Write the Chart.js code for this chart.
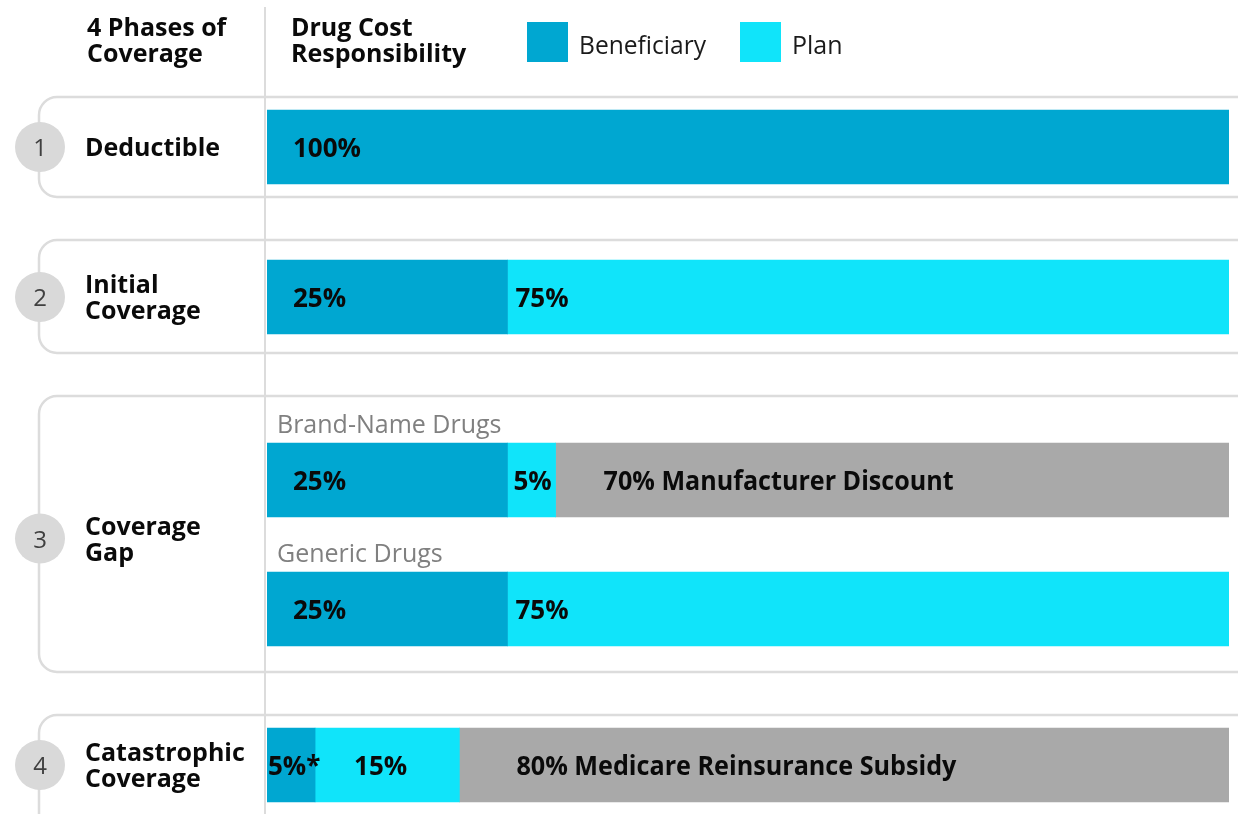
<!DOCTYPE html>
<html>
<head>
<meta charset="utf-8">
<script src="https://cdn.jsdelivr.net/npm/chart.js@4/dist/chart.umd.min.js"></script>
<style>
html,body{margin:0;padding:0;background:#ffffff;}
canvas{display:block;}
</style>
</head>
<body>
<canvas id="c" width="1238" height="814"></canvas>
<script>
// ---------- data ----------
const phaseNames = ['Deductible', 'Initial Coverage', 'Coverage Gap', 'Catastrophic Coverage'];
const phaseLines = [['Deductible'], ['Initial', 'Coverage'], ['Coverage', 'Gap'], ['Catastrophic', 'Coverage']];
const rowNames = ['Deductible', 'Initial Coverage', 'Brand-Name Drugs', 'Generic Drugs', 'Catastrophic Coverage'];
const rowSubtitles = ['', '', 'Brand-Name Drugs', 'Generic Drugs', ''];
const beneficiary = [100, 25, 25, 25, 5];
const plan = [null, 75, 5, 75, 15];
const otherShare = [null, null, 70, null, 80];
const otherNames = ['', '', 'Manufacturer Discount', '', 'Medicare Reinsurance Subsidy'];
const beneficiaryNotes = ['', '', '', '', '*'];
const seriesNames = ['Beneficiary', 'Plan', 'Other'];
const headerLeft = ['4 Phases of', 'Coverage'];
const headerRight = ['Drug Cost', 'Responsibility'];

// ---------- layout (not data) ----------
const PX_PER_SLOT = 150;
const rowSlots = [0.98, 1.98, 3.2, 4.06, 5.1];
const phaseSlots = [0.98, 1.98, 3.59, 5.1];
const phaseBoxes = [[0.6467, 1.3133], [1.6, 2.3533], [2.64, 4.48], [4.7667, 5.8]];
const labelInsets = [[26, 26, 26, 26, 1], [0, 8, 6, 8, 39], [0, 0, 48, 0, 57]];
const labelMaxWidths = [[], [], [0, 0, 350, 0, 440]];
const colors = ['#00A7D1', '#10E4FA', '#A9A9A9'];

const FONT = '"Open Sans", "Noto Sans", sans-serif';
Chart.defaults.font.family = FONT;

function series(values) {
  const out = [];
  values.forEach((v, i) => { if (v !== null) out.push({ x: v, y: rowSlots[i], row: i }); });
  return out;
}

const decoPlugin = {
  id: 'deco',
  beforeDatasetsDraw(chart) {
    const ctx = chart.ctx, ys = chart.scales.y, W = chart.width, H = chart.height;
    ctx.save();
    ctx.strokeStyle = '#dcdcdc';
    // vertical divider
    ctx.lineWidth = 2;
    ctx.beginPath(); ctx.moveTo(265, 7); ctx.lineTo(265, H); ctx.stroke();
    // phase boxes
    const bx = 39, r = 18;
    ctx.lineWidth = 2.5;
    phaseBoxes.forEach(([t, b]) => {
      const top = ys.getPixelForValue(t), bot = ys.getPixelForValue(b);
      ctx.beginPath();
      ctx.moveTo(W + 5, top);
      ctx.lineTo(bx + r, top);
      ctx.arcTo(bx, top, bx, top + r, r);
      ctx.lineTo(bx, bot - r);
      ctx.arcTo(bx, bot, bx + r, bot, r);
      ctx.lineTo(W + 5, bot);
      ctx.stroke();
    });
    // circles + numbers + phase labels
    phaseSlots.forEach((s, i) => {
      const cy = ys.getPixelForValue(s);
      ctx.fillStyle = '#d9d9d9';
      ctx.beginPath(); ctx.arc(40, cy, 25, 0, Math.PI * 2); ctx.fill();
      ctx.fillStyle = '#404040';
      ctx.font = '400 24px ' + FONT;
      ctx.textAlign = 'center'; ctx.textBaseline = 'alphabetic';
      ctx.fillText(String(i + 1), 40, cy + 9);
      ctx.fillStyle = '#0a0a0a';
      ctx.font = '700 25px ' + FONT;
      ctx.textAlign = 'left';
      const lines = phaseLines[i];
      const first = cy - (lines.length - 1) * 13 + 9;
      lines.forEach((ln, k) => ctx.fillText(ln, 85, first + k * 26));
    });
    // headers
    ctx.fillStyle = '#0a0a0a';
    ctx.font = '700 25px ' + FONT;
    ctx.textAlign = 'left';
    headerLeft.forEach((t, k) => ctx.fillText(t, 87, 36 + k * 26));
    headerRight.forEach((t, k) => ctx.fillText(t, 291, 36 + k * 26));
    // legend
    const legendX = [527, 740];
    [0, 1].forEach((d, k) => {
      ctx.fillStyle = chart.data.datasets[d].backgroundColor;
      ctx.fillRect(legendX[k], 22, 41, 40);
      ctx.fillStyle = '#1a1a1a';
      ctx.font = '400 25px ' + FONT;
      ctx.fillText(chart.data.datasets[d].label, legendX[k] + 52, 54, 127);
    });
    // subtitles above bars
    const meta = chart.getDatasetMeta(0);
    ctx.fillStyle = '#808080';
    ctx.font = '400 25px ' + FONT;
    meta.data.forEach((el, j) => {
      const row = chart.data.datasets[0].data[j].row;
      if (rowSubtitles[row]) ctx.fillText(rowSubtitles[row], 277, el.y - el.height / 2 - 10);
    });
    ctx.restore();
  },
  afterDatasetsDraw(chart) {
    const ctx = chart.ctx;
    ctx.save();
    ctx.fillStyle = '#0a0a0a';
    ctx.font = '700 26px ' + FONT;
    ctx.textAlign = 'left'; ctx.textBaseline = 'alphabetic';
    chart.data.datasets.forEach((ds, d) => {
      const meta = chart.getDatasetMeta(d);
      meta.data.forEach((el, j) => {
        const pt = ds.data[j];
        let txt = pt.x + '%';
        if (d === 0) txt += beneficiaryNotes[pt.row];
        if (d === 2 && otherNames[pt.row]) txt += ' ' + otherNames[pt.row];
        const left = Math.min(el.base, el.x);
        const mw = labelMaxWidths[d][pt.row];
        if (mw) ctx.fillText(txt, left + labelInsets[d][pt.row], el.y + 10, mw);
        else ctx.fillText(txt, left + labelInsets[d][pt.row], el.y + 10);
      });
    });
    ctx.restore();
  }
};

new Chart(document.getElementById('c'), {
  type: 'bar',
  data: {
    datasets: [
      { label: seriesNames[0], data: series(beneficiary), backgroundColor: colors[0] },
      { label: seriesNames[1], data: series(plan), backgroundColor: colors[1] },
      { label: seriesNames[2], data: series(otherShare), backgroundColor: colors[2] }
    ]
  },
  options: {
    indexAxis: 'y',
    responsive: false,
    animation: false,
    events: [],
    layout: { padding: { left: 267, right: 9, top: 0, bottom: 0 } },
    datasets: { bar: { barThickness: 74, borderWidth: 0, borderSkipped: false } },
    scales: {
      x: { type: 'linear', min: 0, max: 100, stacked: true, display: false, offset: false, grace: 0 },
      y: { type: 'linear', min: 0, max: 814 / PX_PER_SLOT, reverse: true, stacked: true, display: false, offset: false, grace: 0 }
    },
    plugins: { legend: { display: false }, tooltip: { enabled: false } }
  },
  plugins: [decoPlugin]
});
</script>
</body>
</html>
